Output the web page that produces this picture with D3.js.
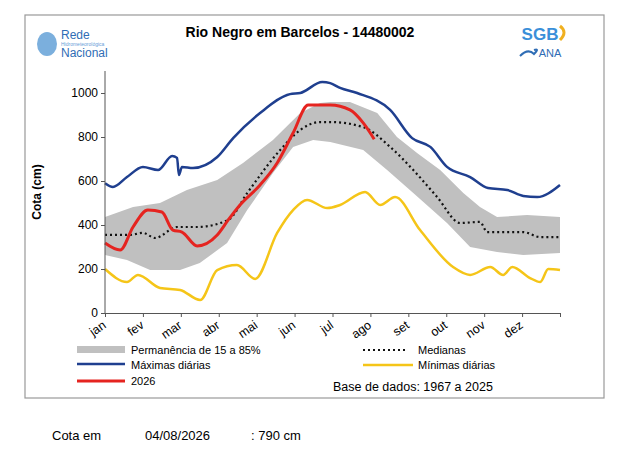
<!DOCTYPE html>
<html><head><meta charset="utf-8">
<script src="https://cdn.jsdelivr.net/npm/d3@7"></script>
<style>body{margin:0;background:#fff}text{font-family:"Liberation Sans",Arial,sans-serif}</style>
</head><body><svg id="c" width="640" height="475"></svg>
<script>
const months=["jan","fev","mar","abr","mai","jun","jul","ago","set","out","nov","dez"];
const yTicks=[0,200,400,600,800,1000];
const maxX=[0,.21,.58,1.0,1.4,1.77,1.9,1.95,2.03,2.32,2.96,3.38,4.09,4.88,5.15,5.73,5.94,6.2,6.65,7.52,8.1,8.58,9.02,9.63,10.1,10.61,11.03,11.4,12];
const maxV=[590,573,618,664,650,714,705,627,664,659,709,795,909,995,1000,1050,1045,1023,1000,923,795,755,664,618,568,559,532,527,582];
const curX=[0,.4,.74,1.13,1.5,1.79,2.03,2.43,2.96,3.25,3.56,4.09,4.54,4.96,5.36,5.94,6.46,6.81,7.1];
const curV=[318,286,391,468,459,377,368,305,355,423,491,582,682,818,945,945,923,864,790];
const medX=[0,.66,1,1.32,1.9,2.43,3.25,3.75,4.62,5.15,5.67,5.94,6.81,7.52,8.13,8.76,9.37,9.89,10.08,11.03,11.48,12];
const medV=[355,355,364,341,391,391,423,545,741,832,868,868,845,755,650,527,409,414,368,368,345,345];
const upX=[0,.74,1.45,2.16,2.96,3.64,4.43,5.15,5.67,5.94,6.46,7.18,7.7,8.23,8.84,9.45,9.89,10.34,11.13,12];
const upV=[436,482,500,559,605,682,786,909,955,959,959,909,800,727,650,545,482,436,445,436];
const loX=[0,.58,1.19,1.98,2.5,3.22,3.75,4.43,4.96,5.49,5.94,6.81,7.44,8.13,9.02,9.63,10.34,11.03,12];
const loV=[264,241,195,195,227,318,468,636,755,786,777,741,650,545,409,300,277,264,273];
const minX=[0,.58,.87,1.45,1.98,2.51,2.96,3.48,3.96,4.54,4.96,5.33,5.86,6.2,6.86,7.26,7.65,8.31,9.18,9.63,10.16,10.5,10.74,11.21,11.48,11.69,12];
const minV=[200,141,173,114,105,59,195,218,155,364,468,514,477,491,550,491,527,377,209,173,209,173,209,159,141,200,195];

const svg=d3.select("#c");
const x=d3.scaleLinear().domain([0,12]).range([105,560]);
const y=d3.scaleLinear().domain([0,1100]).range([313,71]);
svg.append("rect").attr("x",25).attr("y",15).attr("width",579).attr("height",383).attr("fill","none").attr("stroke","#999").attr("stroke-width",1.2);
svg.append("text").attr("x",300).attr("y",37).attr("text-anchor","middle").attr("font-size",14).attr("font-weight","bold").text("Rio Negro em Barcelos - 14480002");
// logos
svg.append("ellipse").attr("cx",47).attr("cy",44).attr("rx",10).attr("ry",12).attr("fill","#5a9bd5").attr("opacity",.8);
svg.append("text").attr("x",61).attr("y",39).attr("font-size",12).attr("fill","#2f6db5").attr("font-family","Liberation Sans Narrow").text("Rede");
svg.append("text").attr("x",61).attr("y",46).attr("font-size",5).attr("fill","#6aa0d8").text("Hidrometeorológica");
svg.append("text").attr("x",61).attr("y",57).attr("font-size",12).attr("fill","#2f6db5").attr("font-family","Liberation Sans Narrow").text("Nacional");
svg.append("text").attr("x",540).attr("y",40).attr("text-anchor","middle").attr("font-size",17).attr("font-weight","bold").attr("fill","#3a8fd9").text("SGB");
svg.append("path").attr("d","M560 26 q8 6 0 14").attr("stroke","#f0b020").attr("stroke-width",3).attr("fill","none");
svg.append("text").attr("x",550).attr("y",57).attr("text-anchor","middle").attr("font-size",11).attr("fill","#2f6db5").text("ANA");
svg.append("path").attr("d","M520 56 q8 -8 14 -2 q6 -6 0 -4").attr("stroke","#2f6db5").attr("stroke-width",2).attr("fill","none");

const pl=(xs,vs)=>xs.map((d,i)=>[x(d),y(vs[i])]);
const band=pl(upX,upV).concat(pl(loX,loV).reverse());
svg.append("path").attr("d",d3.line()(band)+"Z").attr("fill","#c0c0c0");
const line=d3.line().curve(d3.curveMonotoneX);
svg.append("path").attr("d",line(pl(medX,medV))).attr("fill","none").attr("stroke","#111").attr("stroke-width",2.2).attr("stroke-dasharray","2,3");
svg.append("path").attr("d",line(pl(maxX,maxV))).attr("fill","none").attr("stroke","#1f3f8f").attr("stroke-width",2.5);
svg.append("path").attr("d",line(pl(minX,minV))).attr("fill","none").attr("stroke","#f5c518").attr("stroke-width",2.5);
svg.append("path").attr("d",line(pl(curX,curV))).attr("fill","none").attr("stroke","#e52420").attr("stroke-width",3);

const ya=svg.append("g").attr("transform","translate(105,0)").call(d3.axisLeft(y).tickValues(yTicks).tickFormat(d3.format("d")).tickSize(4).tickSizeOuter(0));
ya.select(".domain").attr("d","M0,71V313");
ya.selectAll("text").attr("font-size",12).attr("fill","#000").attr("font-family","Liberation Sans");
const xa=svg.append("g").attr("transform","translate(0,313)").call(d3.axisBottom(x).tickValues(d3.range(13)).tickFormat("").tickSize(4).tickSizeOuter(0));
svg.selectAll(".domain,.tick line").attr("stroke","#555");
svg.selectAll(null).data(months).enter().append("text").attr("font-size",12.5)
 .attr("text-anchor","end").attr("transform",(d,i)=>`translate(${x(i+0.05)},327) rotate(-35)`).text(d=>d);
svg.append("text").attr("transform","translate(41,192) rotate(-90)").attr("text-anchor","middle").attr("font-size",12).attr("font-weight","bold").text("Cota (cm)");

// legend
svg.append("rect").attr("x",77).attr("y",346).attr("width",48).attr("height",7).attr("fill","#c0c0c0");
svg.append("line").attr("x1",77).attr("x2",125).attr("y1",364).attr("y2",364).attr("stroke","#1f3f8f").attr("stroke-width",2.5);
svg.append("line").attr("x1",77).attr("x2",125).attr("y1",381).attr("y2",381).attr("stroke","#e52420").attr("stroke-width",3);
svg.append("line").attr("x1",363).attr("x2",408).attr("y1",350).attr("y2",350).attr("stroke","#111").attr("stroke-width",2).attr("stroke-dasharray","2,3");
svg.append("line").attr("x1",363).attr("x2",413).attr("y1",365).attr("y2",365).attr("stroke","#f5c518").attr("stroke-width",2.5);
const lt=[[131,354,"Permanência de 15 a 85%"],[131,369,"Máximas diárias"],[131,385,"2026"],[418,354,"Medianas"],[418,369,"Mínimas diárias"]];
lt.forEach(t=>svg.append("text").attr("x",t[0]).attr("y",t[1]).attr("font-size",11).text(t[2]));
svg.append("text").attr("x",333).attr("y",391).attr("font-size",12.5).text("Base de dados: 1967 a 2025");
svg.append("text").attr("x",52).attr("y",440).attr("font-size",13).text("Cota em");
svg.append("text").attr("x",145).attr("y",440).attr("font-size",13).text("04/08/2026");
svg.append("text").attr("x",251).attr("y",440).attr("font-size",13).text(": 790 cm");
</script></body></html>
